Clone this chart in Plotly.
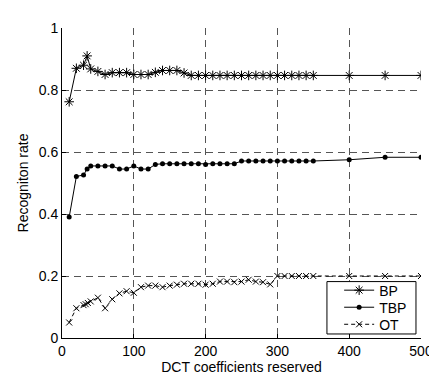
import plotly.graph_objects as go

# ---- data ----
x_bp = [10, 20, 30, 35, 40, 50, 60, 70, 80, 90, 100, 110, 120, 130, 140, 150, 160, 170, 180, 190,
        200, 210, 220, 230, 240, 250, 260, 270, 280, 290, 300, 310, 320, 330, 340, 350, 400, 450, 500]
bp = [0.762, 0.870, 0.880, 0.910, 0.868, 0.860, 0.850, 0.856, 0.856, 0.856, 0.850, 0.850, 0.850,
      0.857, 0.863, 0.863, 0.863, 0.855, 0.847, 0.847, 0.847, 0.847, 0.847, 0.847, 0.847, 0.847,
      0.847, 0.847, 0.847, 0.847, 0.847, 0.847, 0.847, 0.847, 0.847, 0.847, 0.847, 0.847, 0.847]

x_tbp = x_bp
tbp = [0.390, 0.521, 0.526, 0.545, 0.555, 0.555, 0.555, 0.555, 0.545, 0.545, 0.555, 0.545, 0.545,
       0.560, 0.562, 0.562, 0.562, 0.562, 0.562, 0.562, 0.560, 0.562, 0.562, 0.562, 0.562, 0.571,
       0.571, 0.571, 0.571, 0.571, 0.571, 0.571, 0.571, 0.571, 0.571, 0.571, 0.575, 0.583, 0.583]

x_ot = [10, 20, 30, 33, 36, 40, 50, 60, 70, 80, 90, 100, 110, 120, 130, 140, 150, 160, 170, 180, 190,
        200, 210, 220, 230, 240, 250, 260, 270, 280, 290, 300, 310, 320, 330, 340, 350, 400, 450, 500]
ot = [0.050, 0.096, 0.106, 0.109, 0.113, 0.118, 0.130, 0.096, 0.125, 0.144, 0.151, 0.146, 0.164,
      0.169, 0.169, 0.164, 0.169, 0.172, 0.175, 0.175, 0.175, 0.172, 0.175, 0.182, 0.182, 0.180,
      0.182, 0.188, 0.182, 0.180, 0.173, 0.200, 0.200, 0.200, 0.200, 0.200, 0.200, 0.200, 0.200, 0.200]

x_ticks = [0, 100, 200, 300, 400, 500]
y_ticks = [0, 0.2, 0.4, 0.6, 0.8, 1]
y_tick_labels = ["0", "0.2", "0.4", "0.6", "0.8", "1"]

FONT = "Liberation Sans Narrow, Arial Narrow, Liberation Sans, Arial"

fig = go.Figure()
fig.add_trace(go.Scatter(x=x_bp, y=bp, name="BP", mode="lines+markers", legend="legend",
                         line=dict(color="black", width=1),
                         marker=dict(symbol="asterisk-open", size=8, color="black",
                                     line=dict(color="black", width=1))))
fig.add_trace(go.Scatter(x=x_tbp, y=tbp, name="TBP", mode="lines+markers", legend="legend2",
                         line=dict(color="black", width=1),
                         marker=dict(symbol="circle", size=5, color="black")))
fig.add_trace(go.Scatter(x=x_ot, y=ot, name="OT", mode="lines+markers", legend="legend3",
                         line=dict(color="black", width=1, dash="4px,3px"),
                         marker=dict(symbol="x-thin-open", size=6, color="black",
                                     line=dict(color="black", width=1))))

leg_common = dict(x=0.772, xanchor="left", yanchor="middle",
                  bgcolor="rgba(0,0,0,0)", borderwidth=0,
                  font=dict(family=FONT, size=14, color="black"))

fig.update_layout(
    width=437, height=378,
    margin=dict(l=53.5, r=14.5, t=15, b=48),
    plot_bgcolor="white", paper_bgcolor="white",
    font=dict(family=FONT, size=14, color="black"),
    legend=dict(y=0.153, **leg_common),
    legend2=dict(y=0.098, **leg_common),
    legend3=dict(y=0.043, **leg_common),
    showlegend=True,
    shapes=[dict(type="rect", xref="paper", yref="paper", x0=0.738, x1=0.986,
                 y0=0.013, y1=0.182, fillcolor="white",
                 line=dict(color="black", width=1), layer="above")],
)
fig.update_xaxes(range=[0, 500], tickvals=x_ticks, ticktext=[str(v) for v in x_ticks],
                 showgrid=True, gridcolor="#555555", griddash="7px,5px", gridwidth=1,
                 showline=True, linecolor="black", linewidth=1, mirror=False,
                 ticks="inside", ticklen=4, tickcolor="black", zeroline=False,
                 title=dict(text="DCT coefficients reserved", standoff=4,
                            font=dict(family=FONT, size=14)))
fig.update_yaxes(range=[0, 1], tickvals=y_ticks, ticktext=y_tick_labels,
                 showgrid=True, gridcolor="#555555", griddash="7px,5px", gridwidth=1,
                 showline=True, linecolor="black", linewidth=1, mirror=False,
                 ticks="inside", ticklen=4, tickcolor="black", zeroline=False,
                 title=dict(text="Recogniton rate", standoff=6,
                            font=dict(family=FONT, size=14)))

fig.write_html("out.html")
